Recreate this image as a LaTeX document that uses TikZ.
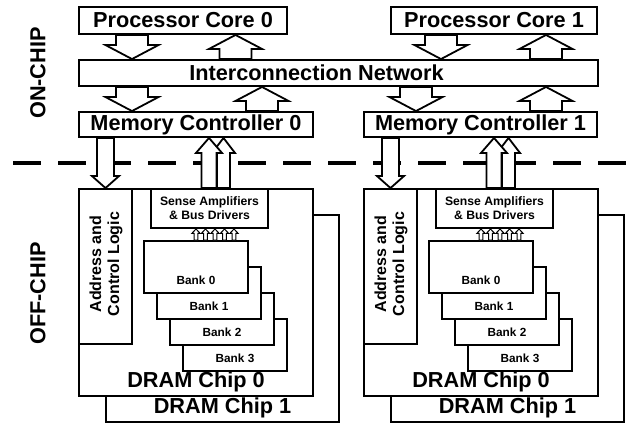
\documentclass[tikz,border=0pt]{standalone}
\usepackage{fontspec}
\setmainfont{Liberation Sans}
\usetikzlibrary{calc}
% #1 x, #2 from anchor, #3 to anchor, #4 half shaft, #5 half head, #6 signed head length, #7 style
\newcommand\blockar[7]{%
  \filldraw[#7] let \p1=(#2), \p2=(#3) in
    ({(#1-#4)*1pt},\y1) -- ({(#1-#4)*1pt},{\y2+(#6)*1pt}) -- ({(#1-#5)*1pt},{\y2+(#6)*1pt})
    -- ({#1*1pt},\y2) -- ({(#1+#5)*1pt},{\y2+(#6)*1pt}) -- ({(#1+#4)*1pt},{\y2+(#6)*1pt})
    -- ({(#1+#4)*1pt},\y1) -- cycle;}
\begin{document}
\begin{tikzpicture}[x=1pt,y=-1pt,
  box/.style={draw, line width=1.9pt, fill=white, inner sep=0pt},
  barrow/.style={draw, line width=1.8pt, fill=white, line join=miter},
  sarrow/.style={draw, line width=1pt, fill=white, line join=miter},
  big/.style={font=\bfseries\fontsize{21.7}{24}\selectfont},
  mid/.style={font=\bfseries\fontsize{16}{18}\selectfont, align=center},
  small/.style={font=\bfseries\fontsize{12.2}{14}\selectfont, align=center},
  bank/.style={font=\bfseries\fontsize{11.8}{13}\selectfont},
]
\useasboundingbox (0,0) rectangle (628,426);

% side labels
\node[big, rotate=90] (onchip) at (38,73) {ON-CHIP};
\node[big, rotate=90] (offchip) at (38,293.5) {OFF-CHIP};

% dashed boundary
\draw[line width=4.8pt, dash pattern=on 28pt off 17pt] (13,163) -- (626,163);

% on-chip boxes
\node[box, big, minimum width=208pt, minimum height=27pt] (p0) at (183,20.5) {Processor Core 0};
\node[box, big, minimum width=206pt, minimum height=27pt] (p1) at (494,20.5) {Processor Core 1};
\node[box, minimum width=519pt, minimum height=26pt] (net) at (338.5,73) {};
\node[big] (nettxt) at (316.5,73) {Interconnection Network};
\node[box, big, minimum width=234pt, minimum height=25pt] (m0) at (196,124.5) {Memory Controller 0};
\node[box, big, minimum width=233pt, minimum height=25pt] (m1) at (480.5,124.5) {Memory Controller 1};

% on-chip arrows
\blockar{132}{p0.south}{net.north}{16}{26.5}{14}{barrow}
\blockar{235.5}{net.north}{p0.south}{16}{26.5}{-14}{barrow}
\blockar{441}{p1.south}{net.north}{16}{26.5}{14}{barrow}
\blockar{546}{net.north}{p1.south}{16}{26.5}{-14}{barrow}
\blockar{132}{net.south}{m0.north}{16}{26.5}{14}{barrow}
\blockar{262}{m0.north}{net.south}{16}{26.5}{-14}{barrow}
\blockar{416}{net.south}{m1.north}{16}{26.5}{14}{barrow}
\blockar{546}{m1.north}{net.south}{16}{26.5}{-14}{barrow}

% DRAM groups
\foreach \dx/\s/\m in {0pt/a/m0, 285pt/b/m1} {
\begin{scope}[xshift=\dx]
  \node[box, minimum width=233pt, minimum height=207pt] (c1\s) at (222.5,318.5) {};
  \node[big] (c1t\s) at (222.5,408) {DRAM Chip 1};
  \node[box, minimum width=234pt, minimum height=207pt] (c0\s) at (196,292.5) {};
  \node[big] (c0t\s) at (196,382) {DRAM Chip 0};
  \node[box, minimum width=53pt, minimum height=155pt] (acl\s) at (105.5,266.5) {};
  \node[mid, rotate=90] (aclt\s) at (106,264) {Address and\\Control Logic};
  \node[box, small, minimum width=117pt, minimum height=39pt] (sa\s) at (209.5,208.5) {Sense Amplifiers\\\& Bus Drivers};
  \node[box, minimum width=104pt, minimum height=52pt] (b3\s) at (235,345) {};
  \node[bank] (b3t\s) at (235,358) {Bank 3};
  \node[box, minimum width=104pt, minimum height=52pt] (b2\s) at (222,319) {};
  \node[bank] (b2t\s) at (222,332) {Bank 2};
  \node[box, minimum width=104pt, minimum height=52pt] (b1\s) at (209,293) {};
  \node[bank] (b1t\s) at (209,306) {Bank 1};
  \node[box, minimum width=104pt, minimum height=52pt] (b0\s) at (196,267) {};
  \node[bank] (b0t\s) at (196,280) {Bank 0};
  % small arrows bank -> sense amps
  \foreach \xx in {196,205.5,215,224.5,234} {
    \blockar{\xx}{b0\s.north}{sa\s.south}{1.8}{4.2}{-4.5}{sarrow}
  }
  % controller <-> chip arrows
  \blockar{105.5}{\m.south}{c0\s.north}{8.5}{13.5}{12}{barrow}
  \blockar{223.5}{sa\s.north}{\m.south}{6.5}{11.5}{-15}{barrow}
  \blockar{209}{sa\s.north}{\m.south}{7.5}{13}{-15}{barrow}
\end{scope}
}
\end{tikzpicture}
\end{document}
